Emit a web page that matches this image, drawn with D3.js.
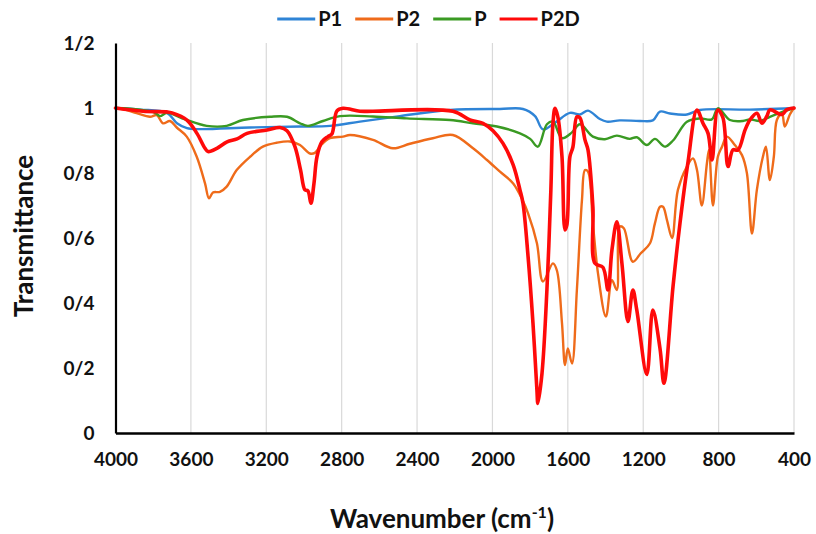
<!DOCTYPE html>
<html>
<head>
<meta charset="utf-8">
<script src="https://cdn.jsdelivr.net/npm/d3@7"></script>
<style>
  html, body { margin: 0; padding: 0; background: #ffffff; }
  svg { display: block; font-family: Lato, "Open Sans", sans-serif; font-weight: 700; }
</style>
</head>
<body>
<svg id="chart" width="816" height="534"></svg>
<script>
// FTIR spectra: wavenumber (cm-1) vs transmittance
const seriesNames = ["P1", "P2", "P", "P2D"];
const seriesColors = ["#2f84d6", "#ef6b1a", "#3a9a23", "#ff0a0a"];
const seriesWidths = [2.4, 2.4, 2.4, 3.6];

const p1Wn = [4000, 3870, 3727, 3674, 3621, 3552, 3286, 3021, 2862, 2703, 2491, 2225, 1960, 1838, 1774, 1732, 1668, 1589, 1536, 1493, 1430, 1393, 1324, 1217, 1149, 1111, 1058, 968, 899, 634, 400];
const p1T  = [1.0, 0.995, 0.985, 0.953, 0.938, 0.935, 0.94, 0.943, 0.945, 0.958, 0.975, 0.994, 0.997, 0.997, 0.975, 0.934, 0.955, 0.985, 0.98, 0.992, 0.966, 0.958, 0.962, 0.96, 0.962, 0.989, 0.983, 0.98, 0.994, 0.995, 1.0];

const p2Wn = [4000, 3950, 3888, 3817, 3781, 3748, 3711, 3675, 3622, 3569, 3525, 3504, 3483, 3446, 3410, 3357, 3286, 3218, 3145, 3074, 3021, 2968, 2942, 2906, 2862, 2793, 2756, 2634, 2528, 2438, 2316, 2210, 2103, 2029, 1960, 1890, 1843, 1811, 1764, 1732, 1679, 1658, 1631, 1615, 1600, 1578, 1552, 1525, 1509, 1493, 1467, 1440, 1398, 1366, 1340, 1324, 1303, 1255, 1213, 1164, 1138, 1111, 1095, 1074, 1047, 1016, 968, 936, 915, 889, 862, 851, 830, 804, 782, 756, 714, 676, 650, 623, 597, 565, 549, 528, 507, 491, 464, 449, 422, 400];
const p2T  = [1.0, 0.995, 0.984, 0.973, 0.978, 0.953, 0.96, 0.94, 0.912, 0.85, 0.768, 0.722, 0.74, 0.742, 0.758, 0.809, 0.85, 0.881, 0.893, 0.897, 0.886, 0.86, 0.862, 0.888, 0.907, 0.912, 0.917, 0.902, 0.876, 0.89, 0.907, 0.917, 0.876, 0.84, 0.804, 0.768, 0.72, 0.676, 0.584, 0.466, 0.522, 0.5, 0.338, 0.209, 0.26, 0.214, 0.44, 0.717, 0.809, 0.804, 0.645, 0.491, 0.358, 0.47, 0.44, 0.635, 0.63, 0.527, 0.553, 0.584, 0.645, 0.696, 0.696, 0.655, 0.6, 0.748, 0.82, 0.845, 0.81, 0.7, 0.83, 0.871, 0.7, 0.85, 0.881, 0.912, 0.886, 0.855, 0.8, 0.614, 0.748, 0.85, 0.881, 0.778, 0.85, 0.963, 0.984, 0.943, 0.98, 1.0];

const pWn = [4000, 3870, 3790, 3764, 3727, 3631, 3516, 3410, 3324, 3180, 3090, 3021, 2979, 2899, 2809, 2634, 2454, 2225, 2103, 1976, 1854, 1800, 1759, 1711, 1679, 1631, 1578, 1536, 1467, 1403, 1340, 1271, 1234, 1181, 1138, 1085, 1042, 968, 899, 836, 804, 740, 671, 634, 581, 528, 475, 400];
const pT  = [1.0, 0.995, 0.985, 0.975, 0.985, 0.965, 0.945, 0.945, 0.963, 0.973, 0.973, 0.953, 0.945, 0.96, 0.975, 0.974, 0.968, 0.963, 0.953, 0.943, 0.922, 0.905, 0.881, 0.95, 0.958, 0.907, 0.925, 0.95, 0.912, 0.904, 0.915, 0.905, 0.91, 0.886, 0.905, 0.881, 0.9, 0.958, 0.968, 0.965, 0.999, 0.963, 0.96, 0.965, 0.96, 0.973, 0.985, 1.0];

const p2dWn = [4000, 3854, 3727, 3700, 3621, 3568, 3525, 3509, 3462, 3408, 3355, 3302, 3196, 3127, 3090, 3048, 3018, 2995, 2979, 2963, 2947, 2931, 2905, 2873, 2852, 2825, 2793, 2703, 2634, 2210, 2119, 2050, 1997, 1944, 1890, 1854, 1838, 1811, 1785, 1764, 1759, 1737, 1711, 1690, 1679, 1668, 1653, 1631, 1615, 1605, 1589, 1573, 1552, 1536, 1509, 1493, 1467, 1456, 1414, 1387, 1366, 1340, 1313, 1281, 1255, 1234, 1181, 1149, 1111, 1090, 1042, 1005, 962, 915, 883, 856, 835, 804, 777, 750, 724, 697, 660, 634, 597, 570, 544, 528, 464, 438, 400];
const p2dT  = [1.0, 0.99, 0.988, 0.985, 0.963, 0.922, 0.876, 0.866, 0.876, 0.896, 0.905, 0.922, 0.932, 0.94, 0.93, 0.881, 0.809, 0.748, 0.745, 0.707, 0.768, 0.85, 0.896, 0.912, 0.92, 0.991, 0.999, 0.99, 0.99, 0.99, 0.963, 0.953, 0.93, 0.891, 0.825, 0.748, 0.707, 0.543, 0.338, 0.132, 0.091, 0.184, 0.44, 0.748, 0.953, 0.999, 0.973, 0.85, 0.625, 0.64, 0.85, 0.88, 0.973, 0.97, 0.902, 0.871, 0.696, 0.522, 0.51, 0.44, 0.563, 0.65, 0.522, 0.343, 0.44, 0.378, 0.18, 0.378, 0.26, 0.153, 0.45, 0.645, 0.835, 0.994, 0.953, 0.922, 0.84, 0.994, 0.97, 0.82, 0.871, 0.871, 0.932, 0.963, 0.984, 0.953, 0.975, 0.994, 0.98, 0.995, 1.0];

const xTicks = [4000, 3600, 3200, 2800, 2400, 2000, 1600, 1200, 800, 400];
const yTicks = [0, 0.2, 0.4, 0.6, 0.8, 1.0, 1.2];
const yTickLabels = ["0", "0/2", "0/4", "0/6", "0/8", "1", "1/2"];

const seriesWn = [p1Wn, p2Wn, pWn, p2dWn];
const seriesT = [p1T, p2T, pT, p2dT];

const svg = d3.select("#chart");
const plot = { left: 115.5, right: 794, top: 43, bottom: 433 };
const tickFont = 19;

const x = d3.scaleLinear().domain([4000, 400]).range([plot.left, plot.right]);
const y = d3.scaleLinear().domain([0, 1.2]).range([plot.bottom, plot.top]);

// vertical gridlines
svg.append("g")
  .selectAll("line")
  .data(xTicks.slice(1))
  .join("line")
  .attr("x1", d => x(d)).attr("x2", d => x(d))
  .attr("y1", plot.top).attr("y2", plot.bottom)
  .attr("stroke", "#d9d9d9")
  .attr("stroke-width", 1.2);

// spectra
const line = d3.line()
  .x(d => x(d[0]))
  .y(d => y(d[1]))
  .curve(d3.curveCatmullRom.alpha(0.5));

seriesNames.forEach((name, i) => {
  const pts = seriesWn[i].map((w, k) => [w, seriesT[i][k]]);
  svg.append("path")
    .datum(pts)
    .attr("fill", "none")
    .attr("stroke", seriesColors[i])
    .attr("stroke-width", seriesWidths[i])
    .attr("stroke-linejoin", "round")
    .attr("stroke-linecap", "round")
    .attr("d", line);
});

// x axis
const xAxis = svg.append("g")
  .attr("transform", `translate(0,${plot.bottom})`)
  .call(d3.axisBottom(x).tickValues(xTicks).tickFormat(d3.format("d")).tickSize(0).tickSizeOuter(0).tickPadding(20));
xAxis.select(".domain").attr("stroke", "#000").attr("stroke-width", 2.4);
xAxis.selectAll("text").attr("font-size", tickFont).attr("font-weight", 700).attr("fill", "#111").attr("font-family", "Lato, sans-serif");

// y axis
const yAxis = svg.append("g")
  .attr("transform", `translate(${plot.left},0)`)
  .call(d3.axisLeft(y).tickValues(yTicks).tickFormat((d, i) => yTickLabels[i]).tickSize(0).tickSizeOuter(0).tickPadding(21));
yAxis.select(".domain").attr("stroke", "#000").attr("stroke-width", 2.2);
yAxis.selectAll("text").attr("font-size", tickFont).attr("font-weight", 700).attr("fill", "#111").attr("font-family", "Lato, sans-serif");

// axis titles
svg.append("text")
  .attr("transform", "translate(33,236) rotate(-90)")
  .attr("text-anchor", "middle")
  .attr("font-size", 26)
  .attr("fill", "#111")
  .text("Transmittance");

const xTitle = svg.append("text")
  .attr("x", 442)
  .attr("y", 528)
  .attr("text-anchor", "middle")
  .attr("font-size", 26)
  .attr("fill", "#111");
xTitle.append("tspan").text("Wavenumber (cm");
xTitle.append("tspan").attr("font-size", 16).attr("dy", -10).text("-1");
xTitle.append("tspan").attr("dy", 10).text(")");

// legend
const legend = svg.append("g");
let lx = 0;
seriesNames.forEach((name, i) => {
  const g = legend.append("g").attr("transform", `translate(${lx},0)`);
  g.append("line").attr("x1", 0).attr("x2", 38).attr("y1", 0).attr("y2", 0)
    .attr("stroke", seriesColors[i]).attr("stroke-width", 3);
  const t = g.append("text").attr("x", 41).attr("y", 7)
    .attr("font-size", 20).attr("fill", "#111").text(name);
  lx += 41 + t.node().getComputedTextLength() + 13;
});
const legendWidth = lx - 13;
legend.attr("transform", `translate(${428.5 - legendWidth / 2},19)`);
</script>
</body>
</html>
